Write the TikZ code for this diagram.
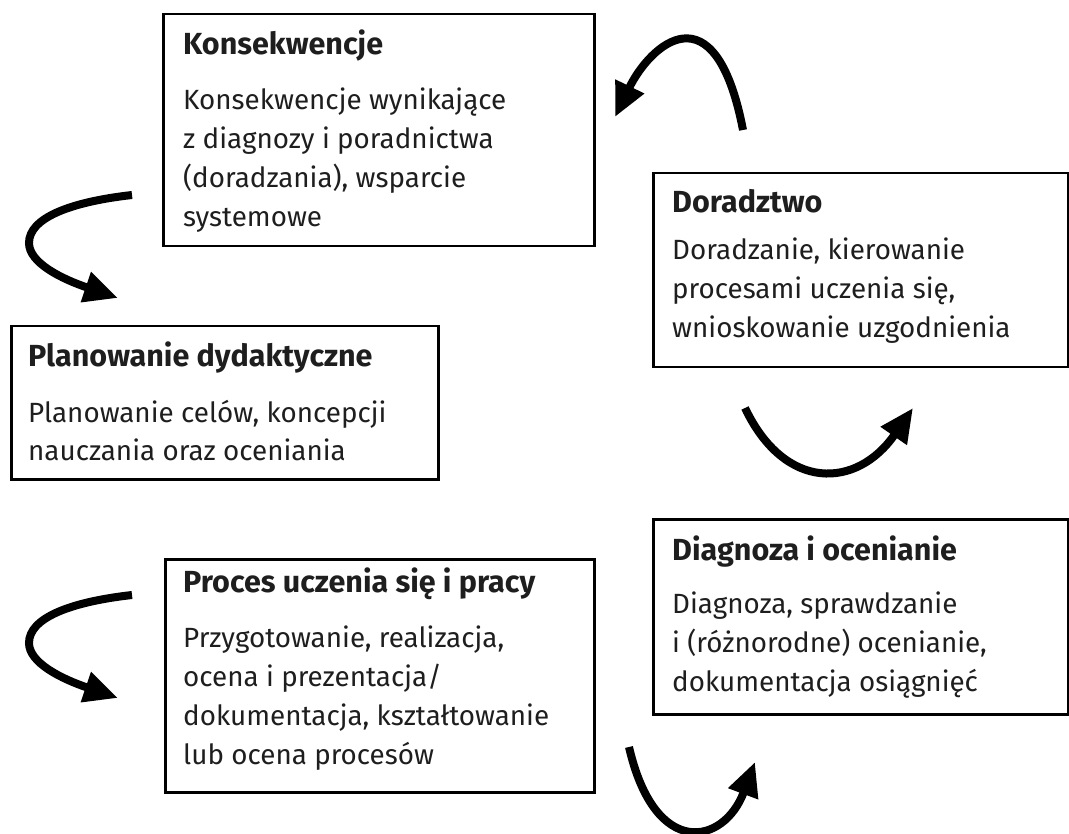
\documentclass[tikz,border=0pt]{standalone}
\usepackage{fontspec}
\setmainfont{Fira Sans}
\usetikzlibrary{arrows.meta}
\definecolor{ink}{HTML}{1E1E1E}
\begin{document}
\begin{tikzpicture}[x=1pt,y=-1pt,
  box/.style={draw=black, line width=2.5pt, inner sep=0pt, anchor=north west},
  ttl/.style={anchor=base west, inner sep=0pt, text=ink, font=\fontsize{30.5}{36}\selectfont\bfseries},
  body/.style={anchor=base west, inner sep=0pt, text=ink, font=\fontsize{27.8}{39}\selectfont},
  flow/.style={line width=8pt, -{Triangle[length=34pt,width=30pt]}}]
\useasboundingbox (0,0) rectangle (1069,834);
\fill[white] (0,0) rectangle (1069,834);

% boxes
\node[box, minimum width=431pt, minimum height=232pt] (k) at (162,13) {};
\node[box, minimum width=415pt, minimum height=194pt] (d) at (652,172) {};
\node[box, minimum width=427pt, minimum height=153pt] (p) at (10,325) {};
\node[box, minimum width=415pt, minimum height=195pt] (g) at (652,518) {};
\node[box, minimum width=429pt, minimum height=233pt] (r) at (164,558) {};

% texts
\node[ttl] (kt) at (183,55) {Konsekwencje};
\node[body] (kb) at (183,110) {\begin{tabular}[t]{@{}l@{}}Konsekwencje wynikające\\z diagnozy i poradnictwa\\(doradzania), wsparcie\\systemowe\end{tabular}};

\node[ttl] (dt) at (672,213) {Doradztwo};
\node[body] (db) at (672,260) {\begin{tabular}[t]{@{}l@{}}Doradzanie, kierowanie\\procesami uczenia się,\\wnioskowanie uzgodnienia\end{tabular}};

\node[ttl] (pt) at (28,367) {Planowanie dydaktyczne};
\node[body] (pb) at (28,422) {\begin{tabular}[t]{@{}l@{}}Planowanie celów, koncepcji\\nauczania oraz oceniania\end{tabular}};

\node[ttl] (gt) at (672,560) {Diagnoza i ocenianie};
\node[body] (gb) at (672,613) {\begin{tabular}[t]{@{}l@{}}Diagnoza, sprawdzanie\\i (różnorodne) ocenianie,\\dokumentacja osiągnięć\end{tabular}};

\node[ttl] (rt) at (183,592) {Proces uczenia się i pracy};
\node[body] (rb) at (183,647) {\begin{tabular}[t]{@{}l@{}}Przygotowanie, realizacja,\\ocena i prezentacja/\\dokumentacja, kształtowanie\\lub ocena procesów\end{tabular}};

% arrows
\coordinate (a1s) at (743,130);
\coordinate (a1e) at (615,117);
\draw[flow] (a1s) .. controls (715,-15) and (650,45) .. (a1e);

\coordinate (a2s) at (132,195);
\coordinate (a2m) at (29,243);
\coordinate (a2e) at (118,298);
\draw[flow] (a2s) .. controls (70,202) and (29,218) .. (a2m) .. controls (29,263) and (62,279) .. (a2e);

\coordinate (a3s) at (745,408);
\coordinate (a3e) at (913,408);
\draw[flow] (a3s) .. controls (785,492) and (857,489) .. (a3e);

\coordinate (a4s) at (132,595);
\coordinate (a4m) at (29,643);
\coordinate (a4e) at (118,698);
\draw[flow] (a4s) .. controls (70,602) and (29,618) .. (a4m) .. controls (29,663) and (62,679) .. (a4e);

\coordinate (a5s) at (629,747);
\coordinate (a5e) at (755,762);
\draw[flow] (a5s) .. controls (655,860) and (724,845) .. (a5e);
\end{tikzpicture}
\end{document}
